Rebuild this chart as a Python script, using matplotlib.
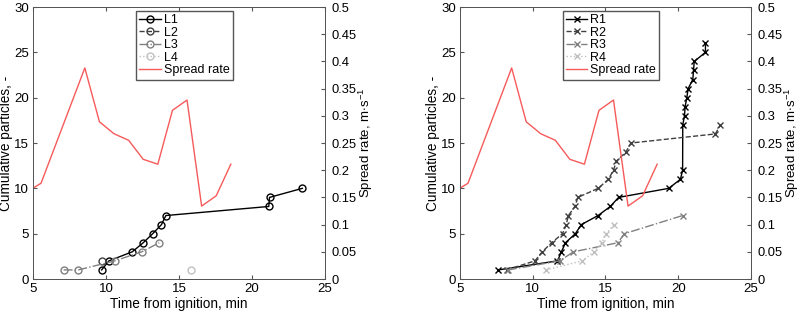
import matplotlib
matplotlib.use('Agg')
import matplotlib.pyplot as plt

plt.rcParams['font.family'] = ['Liberation Sans', 'DejaVu Sans']
plt.rcParams['mathtext.fontset'] = 'custom'
plt.rcParams['mathtext.rm'] = 'Liberation Sans'
plt.rcParams['mathtext.it'] = 'Liberation Sans'
plt.rcParams['font.size'] = 9.3

# spread rate (same for both panels)
t_rate = [5, 5.55, 8.55, 9.55, 10.55, 11.55, 12.55, 13.55, 14.55, 15.55, 16.55, 17.55, 18.55]
rate = [0.167, 0.176, 0.388, 0.289, 0.267, 0.255, 0.220, 0.211, 0.310, 0.329, 0.134, 0.153, 0.211]

# left panel series
L1_t = [9.7, 10.2, 11.8, 12.55, 13.2, 13.8, 14.1, 21.15, 21.2, 23.45]
L1_n = [1, 2, 3, 4, 5, 6, 7, 8, 9, 10]
L2_t = [9.75]
L2_n = [2]
L3_t = [7.1, 8.1, 10.6, 12.45, 13.65]
L3_n = [1, 1, 2, 3, 4]
L4_t = [15.8]
L4_n = [1]

# right panel series
R1_t = [7.62, 11.7, 11.97, 12.25, 12.93, 13.34, 14.49, 15.33, 15.9, 19.35, 20.15, 20.3,
        20.31, 20.43, 20.47, 20.59, 20.68, 21.0, 21.05, 21.1, 21.87, 21.87]
R1_n = [1, 2, 3, 4, 5, 6, 7, 8, 9, 10, 11, 12, 17, 18, 19, 20, 21, 22, 23, 24, 25, 26]
R2_t = [8.2, 10.15, 10.65, 11.3, 12.05, 12.3, 12.45, 12.9, 13.1, 14.5, 15.2, 15.55,
        15.75, 16.4, 16.75, 22.55, 22.9]
R2_n = [1, 2, 3, 4, 5, 6, 7, 8, 9, 10, 11, 12, 13, 14, 15, 16, 17]
R3_t = [8.3, 11.85, 12.8, 15.85, 16.3, 20.3]
R3_n = [1, 2, 3, 4, 5, 7]
R4_t = [10.9, 13.4, 14.2, 14.75, 15.05, 15.58]
R4_n = [1, 2, 3, 4, 5, 6]

red = '#f75a5a'
styles = [('k', '-'), ('#404040', '--'), ('#808080', '-.'), ('#c0c0c0', ':')]

fig = plt.figure(figsize=(8.03, 3.14), dpi=100)
ax_l = fig.add_axes([33/803, 35/314, 292/803, 272/314])
ax_r = fig.add_axes([460/803, 35/314, 291/803, 272/314])


def panel(ax, data, names, marker, ms):
    ax2 = ax.twinx()
    lines = []
    for (t, n), (c, ls), nm in zip(data, styles, names):
        h, = ax.plot(t, n, color=c, ls=ls, lw=1, marker=marker, ms=ms,
                     mfc='none', mec=c, mew=1, label=nm)
        lines.append(h)
    hr, = ax2.plot(t_rate, rate, color=red, lw=1, label='Spread rate')
    lines.append(hr)
    ax.set_xlim(5, 25)
    ax.set_ylim(0, 30)
    ax2.set_ylim(0, 0.5)
    ax.set_xticks([5, 10, 15, 20, 25])
    ax.set_yticks([0, 5, 10, 15, 20, 25, 30])
    ax2.set_yticks([0, 0.05, 0.1, 0.15, 0.2, 0.25, 0.3, 0.35, 0.4, 0.45, 0.5])
    ax2.set_yticklabels(['0', '0.05', '0.1', '0.15', '0.2', '0.25', '0.3', '0.35',
                         '0.4', '0.45', '0.5'])
    ax.tick_params(direction='in', top=True, length=3, color='#555555', pad=3,
                   labelsize=9.5)
    ax2.tick_params(direction='in', length=3, color='#555555', pad=4.5, labelsize=9.3)
    for a in (ax, ax2):
        for s in a.spines.values():
            s.set_color('#555555')
            s.set_linewidth(0.7)
    ax.set_xlabel('Time from ignition, min', fontsize=9.8, labelpad=1)
    ax.set_ylabel('Cumulative particles, -', fontsize=9.8, labelpad=1)
    ax2.set_ylabel('Spread rate, m$\\cdot$s$^{-1}$', fontsize=9.5, labelpad=0)
    ax2.legend(handles=lines, loc='upper left', bbox_to_anchor=(0.345, 0.995),
               fontsize=9.0, handlelength=1.7, handletextpad=0.25, borderpad=0.25,
               labelspacing=0.05, borderaxespad=0.2, fancybox=False,
               edgecolor='#555555', framealpha=1)


panel(ax_l, [(L1_t, L1_n), (L2_t, L2_n), (L3_t, L3_n), (L4_t, L4_n)],
      ['L1', 'L2', 'L3', 'L4'], 'o', 5)
panel(ax_r, [(R1_t, R1_n), (R2_t, R2_n), (R3_t, R3_n), (R4_t, R4_n)],
      ['R1', 'R2', 'R3', 'R4'], 'x', 4)

fig.savefig('out.png', dpi=100)
